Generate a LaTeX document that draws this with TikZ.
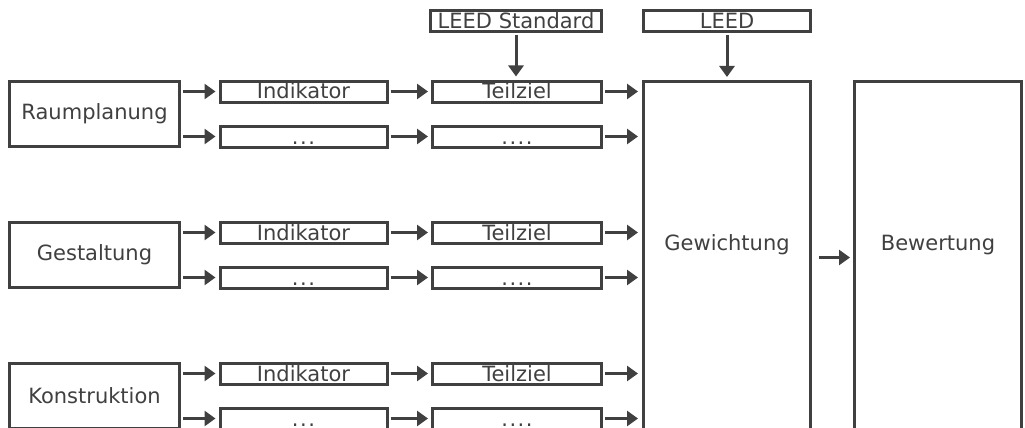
\documentclass[tikz,border=0pt]{standalone}
\usepackage{fontspec}
\setmainfont{DejaVu Sans}
\usepackage{xcolor}
\usepackage{tikz}
\usetikzlibrary{arrows.meta, positioning, calc}
\definecolor{LineGrey}{HTML}{404040}

\begin{document}
\begin{tikzpicture}[x=1pt, y=-1pt, >={Triangle[length=11pt, width=15pt]},
    box/.style={draw=LineGrey, line width=3pt, inner sep=0pt, text=LineGrey, font=\fontsize{21}{25}\selectfont},
    area/.style={box, minimum width=170pt, minimum height=65pt},
    slot/.style={box, minimum width=167pt, minimum height=21pt, text height=17.5pt, text depth=2.5pt},
    column/.style={box, minimum width=167pt, minimum height=352pt, anchor=north},
    caption/.style={text=LineGrey, inner sep=0pt, font=\fontsize{21}{25}\selectfont},
    pipe/.style={->, LineGrey, line width=3pt, shorten <=2pt, shorten >=3pt}]
    \useasboundingbox (0,0) rectangle (1025,428);

    % Vorgaben oben
    \node [slot, minimum width=171pt] (std) at (516, 21) {LEED Standard};
    \node [slot] (leed) at (727, 21) {LEED};

    % Gewichtung und Bewertung
    \node [column] (gew) at (727, 80) {};
    \node [column] (bew) at (938, 80) {};
    \node [caption] (gew-txt) at (727, 245) {Gewichtung};
    \node [caption] (bew-txt) at (938, 245) {Bewertung};

    % Kriterien, je Zeile um 141px versetzt
    \foreach \name/\txt [count=\i from 0] in {raum/Raumplanung, gest/Gestaltung, konst/Konstruktion} {
        \node [area] (\name) at (94.5, 114+141*\i) {\txt};
        \node [slot] (\name-ind) at (303.5, 91.5+141*\i) {Indikator};
        \node [slot] (\name-ind2) at (303.5, 136.5+141*\i) {.\kern1.5pt.\kern1.5pt.};
        \node [slot, minimum width=169pt] (\name-ziel) at (517, 91.5+141*\i) {Teilziel};
        \node [slot, minimum width=169pt] (\name-ziel2) at (517, 136.5+141*\i) {.\kern1.5pt.\kern1.5pt.\kern1.5pt.};
        \draw [pipe] (\name.east |- \name-ind.west) -- (\name-ind.west);
        \draw [pipe] (\name.east |- \name-ind2.west) -- (\name-ind2.west);
        \draw [pipe] (\name-ind.east) -- (\name-ziel.west);
        \draw [pipe] (\name-ind2.east) -- (\name-ziel2.west);
        \draw [pipe, shorten >=4pt] (\name-ziel.east) -- (\name-ziel.east -| gew.west);
        \draw [pipe, shorten >=4pt] (\name-ziel2.east) -- (\name-ziel2.east -| gew.west);
    }

    \draw [pipe] (std.south) -- (std.south |- raum-ziel.north);
    \draw [pipe] (leed.south) -- (leed.south |- gew.north);
    \draw [pipe, shorten <=7pt] (gew.east) -- (bew.west);
\end{tikzpicture}
\end{document}
